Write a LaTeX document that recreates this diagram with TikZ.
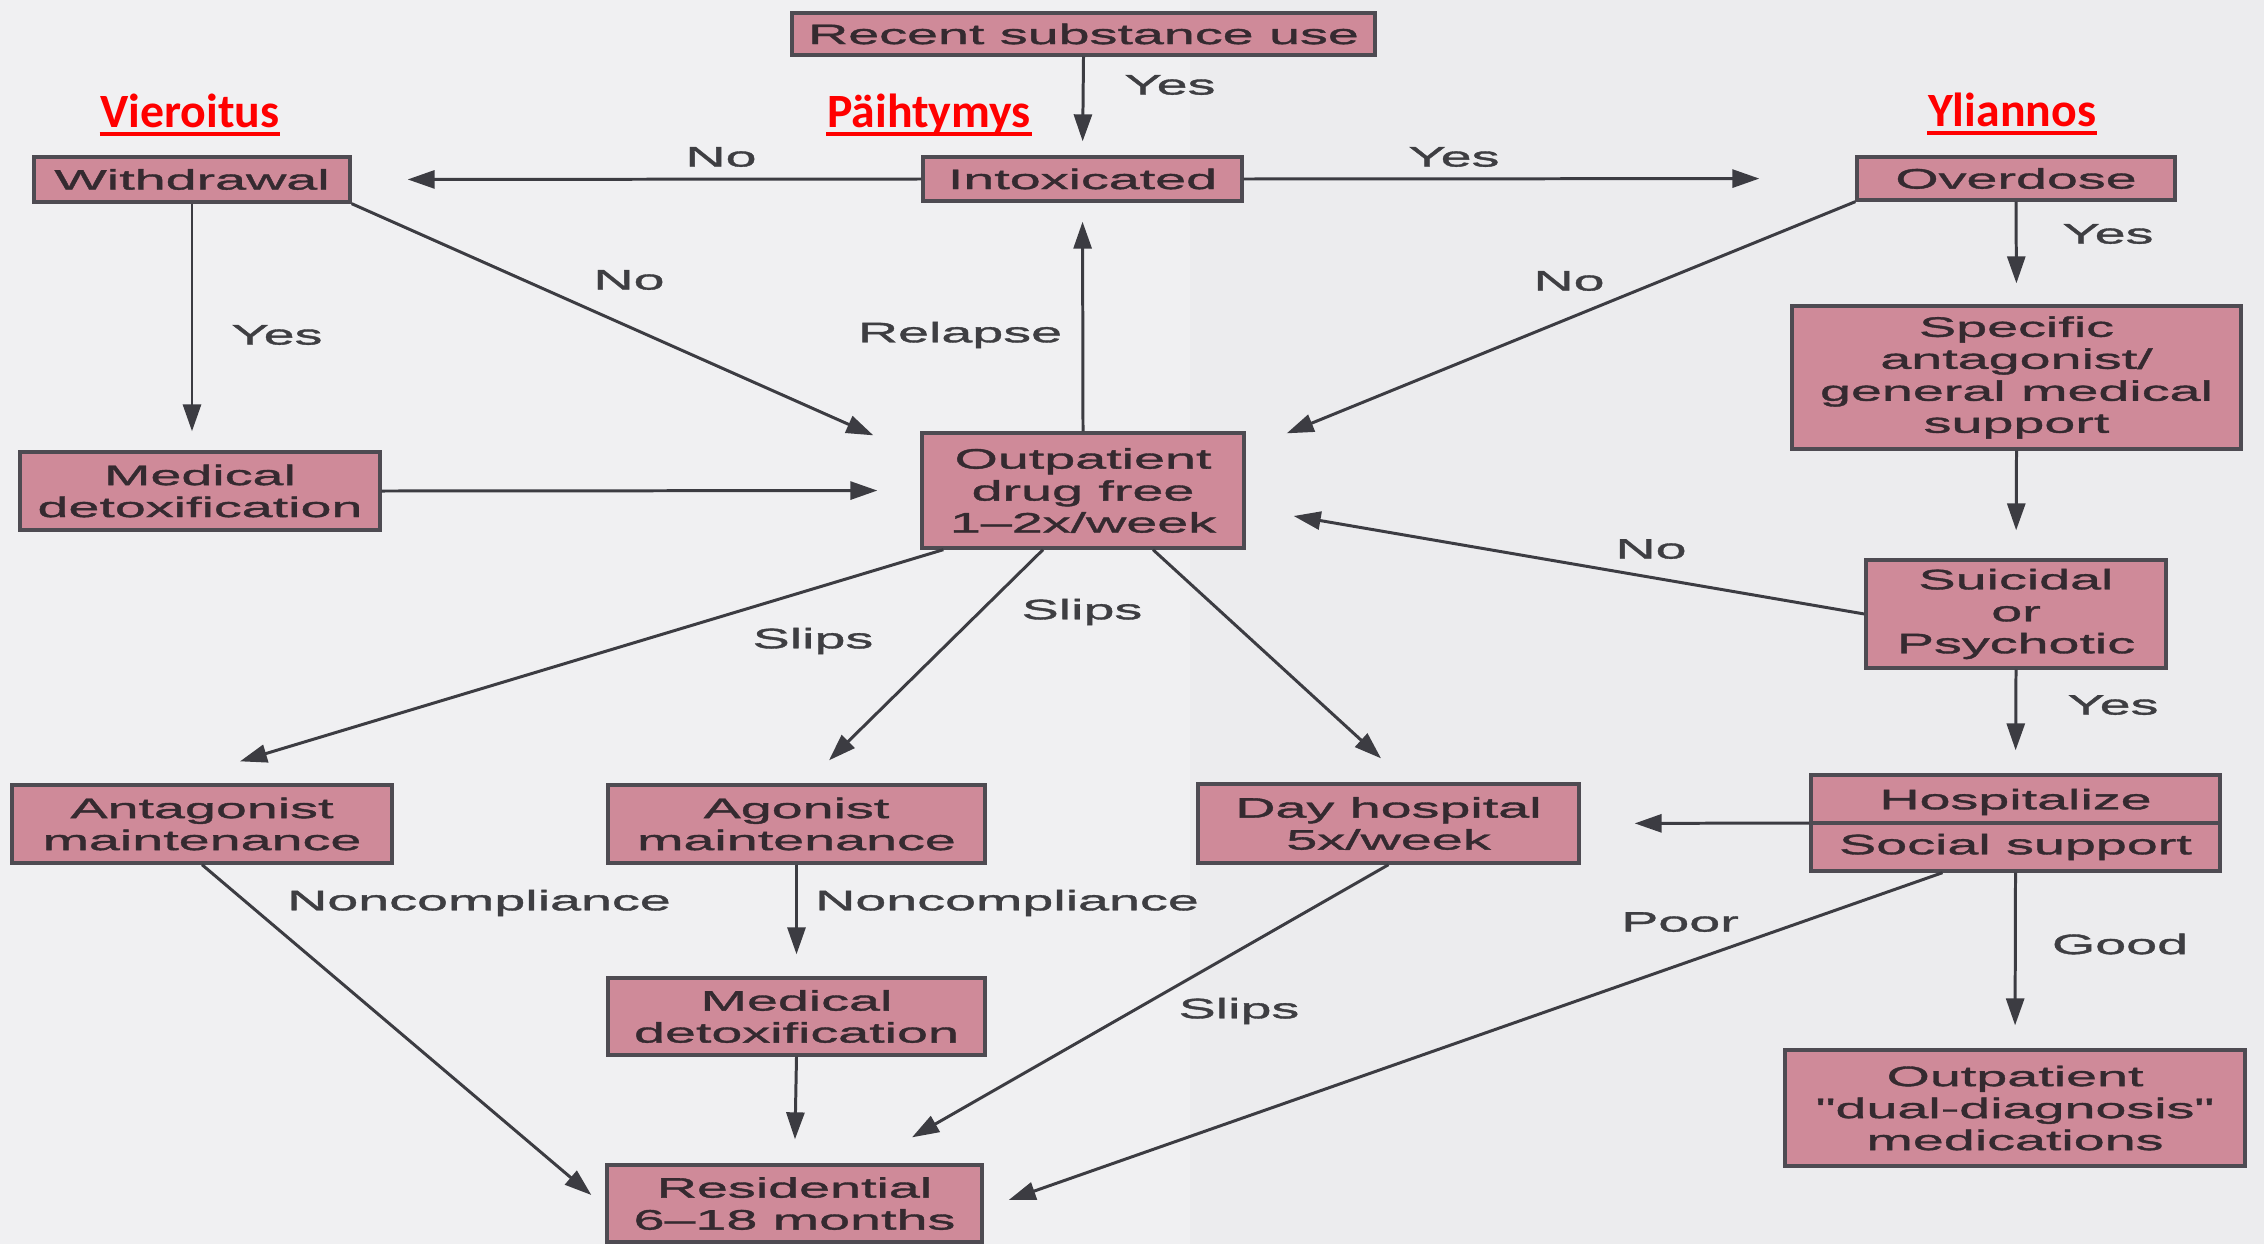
\documentclass[tikz,border=0pt]{standalone}
\usepackage{fontspec}
\setmainfont{Liberation Sans}
\newfontfamily\boxfont[FakeStretch=1.98,FakeBold=1.4]{Liberation Sans}
\newfontfamily\redfont{Carlito}
\usetikzlibrary{arrows.meta}
\definecolor{bgcol}{HTML}{F0F0F2}
\definecolor{bgcolr}{HTML}{ECECEE}
\definecolor{boxfill}{HTML}{CF8A99}
\definecolor{boxline}{HTML}{4E4B52}
\definecolor{txtcol}{HTML}{352A30}
\definecolor{edgecol}{HTML}{3C3C42}
\definecolor{lblcol}{HTML}{3E3E42}
\begin{document}
\begin{tikzpicture}[
  box/.style={draw=boxline, line width=0.95pt, fill=boxfill, text=txtcol, align=center, inner sep=0pt,
    font=\boxfont\fontsize{8pt}{9.1pt}\selectfont},
  lbl/.style={text=lblcol, inner sep=0pt, font=\boxfont\fontsize{8pt}{9.1pt}\selectfont},
  arr/.style={draw=edgecol, line width=0.85pt, -{Triangle[length=0.27cm,width=0.18cm]}},
  redlbl/.style={text=red, inner sep=0pt, anchor=base, font=\redfont\bfseries\fontsize{13.6pt}{16pt}\selectfont},
  redline/.style={draw=red, line width=0.9pt},
]
\useasboundingbox (0,0) rectangle (22.64,-12.44);
\fill[bgcol] (0,0) rectangle (22.64,-12.44);
\fill[bgcolr] (11.9,0) rectangle (22.64,-12.44);

% red headings
\node[redlbl] (vier) at (1.90,-1.27) {Vieroitus};
\node[redlbl] (paih) at (9.29,-1.27) {Päihtymys};
\node[redlbl] (ylia) at (20.12,-1.26) {Yliannos};
\draw[redline] ([yshift=-0.07cm]vier.base west) -- ([yshift=-0.07cm]vier.base east);
\draw[redline] ([yshift=-0.07cm]paih.base west) -- ([yshift=-0.07cm]paih.base east);
\draw[redline] ([yshift=-0.07cm]ylia.base west) -- ([yshift=-0.07cm]ylia.base east);

% boxes
\node[box, minimum width=5.83cm, minimum height=0.42cm] (rec) at (10.835,-0.34) {Recent substance use};
\node[box, minimum width=3.19cm, minimum height=0.44cm] (intox) at (10.825,-1.79) {Intoxicated};
\node[box, minimum width=3.16cm, minimum height=0.45cm] (withd) at (1.92,-1.795) {Withdrawal};
\node[box, minimum width=3.60cm, minimum height=0.78cm] (meddet1) at (2.00,-4.91) {Medical\\detoxification};
\node[box, minimum width=3.22cm, minimum height=1.15cm] (outp) at (10.83,-4.905) {Outpatient\\drug free\\1–2x/week};
\node[box, minimum width=3.18cm, minimum height=0.43cm] (overd) at (20.16,-1.785) {Overdose};
\node[box, minimum width=4.49cm, minimum height=1.43cm] (spec) at (20.165,-3.775) {Specific\\antagonist/\\general medical\\support};
\node[box, minimum width=3.00cm, minimum height=1.08cm] (suic) at (20.16,-6.14) {Suicidal\\or\\Psychotic};
\node[box, minimum width=4.09cm, minimum height=0.96cm] (hosp) at (20.155,-8.23) {};
\node[box, minimum width=4.60cm, minimum height=1.16cm] (dual) at (20.15,-11.08) {Outpatient\\"dual-diagnosis"\\medications};
\node[box, minimum width=3.81cm, minimum height=0.79cm] (dayh) at (13.885,-8.235) {Day hospital\\5x/week};
\node[box, minimum width=3.80cm, minimum height=0.78cm] (antag) at (2.02,-8.24) {Antagonist\\maintenance};
\node[box, minimum width=3.77cm, minimum height=0.78cm] (agon) at (7.965,-8.24) {Agonist\\maintenance};
\node[box, minimum width=3.77cm, minimum height=0.77cm] (meddet2) at (7.965,-10.165) {Medical\\detoxification};
\node[box, minimum width=3.75cm, minimum height=0.77cm] (resid) at (7.945,-12.035) {Residential\\6–18 months};

% split box for hospitalize
\draw[draw=boxline, line width=0.95pt] (hosp.west) -- (hosp.east);
\node[lbl, text=txtcol] (hospa) at ([yshift=0.21cm]hosp.center) {Hospitalize};
\node[lbl, text=txtcol] (hospb) at ([yshift=-0.24cm]hosp.center) {Social support};

% connectors
\draw[arr, shorten >=0.14cm] (rec.south) -- (intox.north);
\draw[arr, shorten >=0.56cm] (intox.west) -- (withd.east);
\draw[arr, shorten >=0.96cm] (intox.east) -- (overd.west);
\draw[arr] (withd.south east) -- ([xshift=-0.47cm,yshift=-0.04cm]outp.north west);
\draw[arr, shorten >=0.19cm] (withd.south) -- (withd.south |- meddet1.north);
\draw[arr, shorten >=0.43cm] (meddet1.east) -- (outp.west);
\draw[arr, shorten >=0.19cm] (outp.north) -- (intox.south);
\draw[arr] (overd.south west) -- ([xshift=0.41cm,yshift=-0.02cm]outp.north east);
\draw[arr, shorten >=0.21cm] (overd.south) -- (spec.north);
\draw[arr, shorten >=0.28cm] (spec.south) -- (suic.north);
\draw[arr] (suic.west) -- ([xshift=0.48cm,yshift=-0.255cm]outp.east);
\draw[arr, shorten >=0.23cm] (suic.south) -- (hosp.north);
\draw[arr, shorten >=0.54cm] (hosp.west) -- (dayh.east);
\draw[arr, shorten >=0.23cm] (hosp.south) -- (dual.north);
\draw[arr] ([xshift=-0.73cm]hosp.south) -- ([xshift=0.25cm,yshift=0.035cm]resid.east);
\draw[arr] ([xshift=0.70cm]outp.south) -- ([xshift=-0.075cm,yshift=0.24cm]dayh.north);
\draw[arr] ([xshift=-0.40cm]outp.south) -- ([xshift=0.325cm,yshift=0.23cm]agon.north);
\draw[arr] ([xshift=0.23cm]outp.south west) -- ([xshift=0.38cm,yshift=0.22cm]antag.north);
\draw[arr] (antag.south) -- ([xshift=-0.14cm,yshift=0.085cm]resid.west);
\draw[arr, shorten >=0.22cm] (agon.south) -- (meddet2.north);
\draw[arr, shorten >=0.24cm] (meddet2.south) -- (resid.north);
\draw[arr] (dayh.south) -- ([xshift=1.175cm,yshift=0.26cm]resid.north);

% connector labels
\node[lbl] (l1) at (11.70,-0.85) {Yes};
\node[lbl] (l2) at (7.21,-1.57) {No};
\node[lbl] (l3) at (14.54,-1.57) {Yes};
\node[lbl] (l4) at (6.29,-2.80) {No};
\node[lbl] (l5) at (2.77,-3.35) {Yes};
\node[lbl] (l6) at (9.60,-3.35) {Relapse};
\node[lbl] (l7) at (15.69,-2.81) {No};
\node[lbl] (l8) at (21.08,-2.34) {Yes};
\node[lbl] (l9) at (16.51,-5.49) {No};
\node[lbl] (l10) at (21.13,-7.05) {Yes};
\node[lbl] (l11) at (21.20,-9.44) {Good};
\node[lbl] (l12) at (16.80,-9.22) {Poor};
\node[lbl] (l13) at (10.82,-6.12) {Slips};
\node[lbl] (l14) at (8.13,-6.41) {Slips};
\node[lbl] (l15) at (4.79,-9.03) {Noncompliance};
\node[lbl] (l16) at (10.07,-9.03) {Noncompliance};
\node[lbl] (l17) at (12.39,-10.11) {Slips};
\end{tikzpicture}
\end{document}
